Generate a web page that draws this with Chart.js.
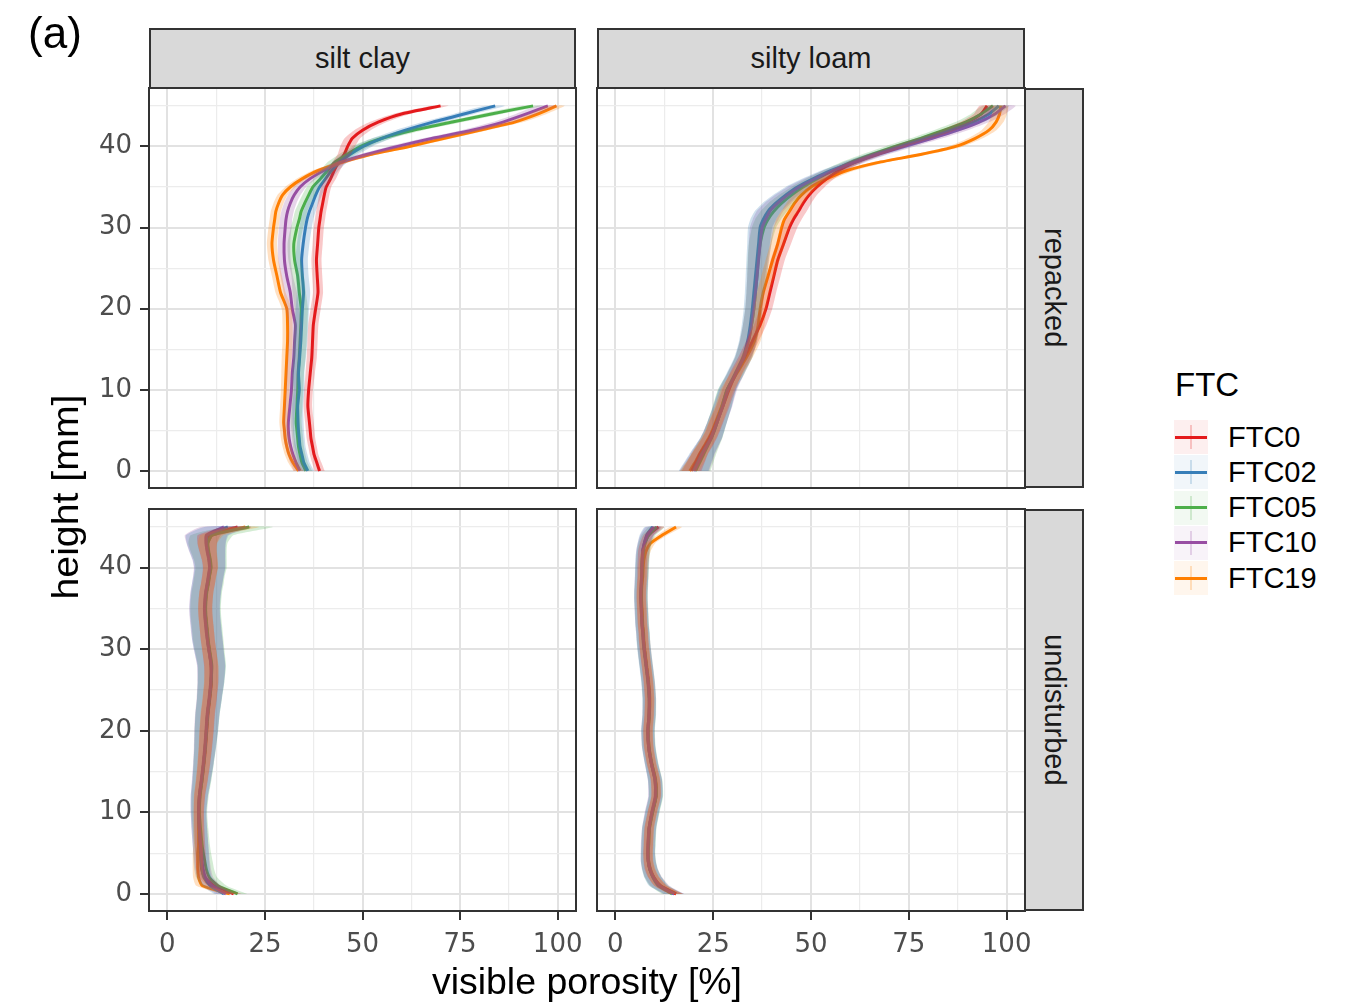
<!DOCTYPE html>
<html>
<head>
<meta charset="utf-8">
<script src="https://cdn.jsdelivr.net/npm/chart.js@4.4.1/dist/chart.umd.min.js"></script>
<style>
html,body{margin:0;padding:0;background:#fff;}
#root{position:relative;width:1346px;height:1004px;overflow:hidden;font-family:"Liberation Sans",Arial,sans-serif;color:#000;}
.t{position:absolute;white-space:nowrap;}
canvas{position:absolute;}
.strip{position:absolute;background:#d9d9d9;border:2px solid #333;box-sizing:border-box;display:flex;align-items:center;justify-content:center;color:#1a1a1a;}
</style>
</head>
<body>
<div id="root"></div>
<script>
// ---------------- DATA ----------------
const heights = [0,1,2,3,4,5,6,8,10,12,14,16,18,20,22,24,26,28,30,31,32,33,34,35,36,37,38,39,40,41,42,43,44,45];
const ftcLevels = ['FTC0','FTC02','FTC05','FTC10','FTC19'];
const ftcColors = ['#e41a1c','#377eb8','#4daf4a','#984ea3','#ff7f00'];
const soilTypes = ['silt clay','silty loam'];
const preparations = ['repacked','undisturbed'];
const xMajorTicks = [0,25,50,75,100];
const xMinorTicks = [12.5,37.5,62.5,87.5];
const yMajorTicks = [0,10,20,30,40];
const yMinorTicks = [5,15,25,35,45];

// silt clay, repacked
const scRep_FTC0  = [39.0,38.3,37.6,37.2,36.8,36.6,36.4,36.0,36.2,36.6,37.0,37.2,37.4,38.0,38.6,38.4,38.2,38.5,38.8,39.1,39.4,39.8,40.2,40.7,41.8,42.7,43.8,45.3,46.2,47.4,50.0,54.0,60.0,70.0];
const scRep_FTC02 = [36.0,35.0,34.5,34.0,33.8,33.6,33.5,33.4,33.8,33.6,33.9,34.2,34.4,34.6,34.9,34.6,34.4,34.8,35.4,35.8,36.4,37.2,38.0,39.0,40.5,42.0,44.0,46.8,50.2,55.0,61.0,68.0,76.0,84.0];
const scRep_FTC05 = [35.5,34.5,34.0,33.6,33.4,33.2,33.0,33.2,33.4,33.5,33.8,34.0,34.2,34.3,33.8,33.4,32.6,32.4,33.2,33.8,34.3,35.2,36.2,37.3,39.2,41.0,42.8,46.0,49.5,55.0,63.0,73.0,83.0,93.7];
const scRep_FTC10 = [34.0,33.0,32.2,31.6,31.2,31.0,31.0,31.4,31.8,32.0,32.4,32.6,32.8,32.0,31.5,30.6,30.0,29.9,30.2,30.4,30.8,31.5,32.5,34.0,36.5,40.0,44.2,51.0,59.0,68.0,78.0,86.0,92.0,97.5];
const scRep_FTC19 = [33.6,32.2,31.2,30.6,30.2,30.0,29.8,30.0,30.2,30.4,30.6,30.8,30.8,30.6,29.0,28.1,27.2,26.8,27.2,27.5,27.8,28.5,29.5,31.5,34.5,38.5,44.5,52.0,62.0,71.0,80.0,89.0,95.0,99.7];
const scRep_sdWide   = [1.6,1.5,1.4,1.4,1.4,1.4,1.4,1.4,1.4,1.5,1.6,1.7,1.7,1.7,1.7,1.6,1.6,1.6,1.6,1.6,1.6,1.6,1.6,1.6,1.7,1.8,1.9,2.1,2.3,2.5,2.6,2.7,2.7,2.6];
const scRep_sdNarrow = [1.3,1.2,1.1,1.1,1.1,1.1,1.1,1.1,1.1,1.2,1.3,1.3,1.3,1.3,1.3,1.3,1.3,1.3,1.3,1.3,1.3,1.3,1.3,1.3,1.4,1.5,1.6,1.7,1.9,2.0,2.1,2.2,2.2,2.1];

// silty loam, repacked
const slRep_FTC0  = [19.5,20.5,21.5,22.8,24.0,25.0,25.8,27.5,29.0,30.8,33.0,35.0,37.0,38.5,39.5,40.5,41.5,43.0,44.5,45.5,46.8,48.0,49.5,51.5,54.0,57.0,61.0,66.5,72.5,79.0,85.0,90.0,93.5,95.0];
const slRep_FTC02 = [20.0,21.0,22.0,23.2,24.4,25.3,26.0,27.4,28.6,30.6,32.6,33.8,34.5,35.0,35.4,35.8,36.2,36.6,37.0,37.8,39.0,41.0,43.5,46.5,50.5,55.0,60.5,66.5,73.0,79.5,86.0,91.5,95.5,98.0];
const slRep_FTC05 = [20.5,21.5,22.5,23.5,24.5,25.3,26.0,27.3,28.5,30.8,32.8,34.0,34.8,35.4,35.8,36.2,36.5,37.0,38.0,39.0,40.5,42.5,45.0,48.0,51.5,55.5,60.0,65.5,71.5,78.0,84.0,89.5,93.5,96.5];
const slRep_FTC10 = [20.2,21.2,22.2,23.3,24.4,25.2,26.0,27.5,28.8,30.8,32.8,34.0,34.8,35.4,35.8,36.2,36.6,37.0,37.5,38.4,39.5,41.5,44.0,47.0,51.0,55.5,61.0,67.0,74.0,81.0,87.5,93.0,97.0,99.7];
const slRep_FTC19 = [19.0,20.3,21.4,22.6,23.8,24.8,25.6,27.2,28.6,31.0,33.5,35.5,36.5,37.0,37.8,39.0,40.2,41.5,42.5,43.2,44.5,45.8,47.5,50.0,54.0,59.0,67.0,78.0,87.0,92.0,95.5,97.3,98.2,98.5];
const slRep_sdWide   = [3.8,3.5,3.2,3.0,2.8,2.6,2.5,2.4,2.3,2.2,2.2,2.2,2.2,2.2,2.3,2.5,2.7,2.9,3.1,3.3,3.4,3.4,3.2,3.0,2.8,2.6,2.6,2.6,2.6,2.6,2.6,2.6,2.6,2.6];
const slRep_sdNarrow = [2.5,2.3,2.1,2.0,1.9,1.8,1.8,1.7,1.7,1.6,1.6,1.6,1.6,1.6,1.6,1.7,1.8,1.9,2.0,2.1,2.1,2.1,2.0,2.0,1.9,1.9,1.9,1.9,1.9,1.9,1.9,1.9,1.9,1.9];

// silt clay, undisturbed
const scUnd_FTC0  = [17.0,12.0,9.6,8.8,8.6,8.5,8.4,8.2,8.1,8.3,8.9,9.4,9.8,10.1,10.4,10.9,11.3,11.2,10.7,10.4,10.2,10.0,9.8,9.7,9.8,10.0,10.4,10.7,11.0,10.8,10.4,10.2,10.8,18.0];
const scUnd_FTC02 = [14.5,11.0,9.4,8.9,8.7,8.6,8.5,8.2,8.0,8.2,8.8,9.3,9.7,10.0,10.3,10.8,11.2,11.3,10.6,10.3,10.1,9.9,9.7,9.6,9.7,9.9,10.2,10.6,10.9,10.7,10.3,10.0,10.3,15.5];
const scUnd_FTC05 = [18.0,13.0,10.8,10.0,9.6,9.2,8.9,8.5,8.2,8.4,8.9,9.3,9.7,10.0,10.3,10.8,11.2,11.4,10.8,10.5,10.3,10.1,9.9,9.8,9.9,10.1,10.5,10.8,11.2,11.0,10.6,10.4,11.5,21.0];
const scUnd_FTC10 = [15.0,11.5,9.8,9.2,8.9,8.7,8.5,8.2,8.0,8.2,8.7,9.2,9.6,9.9,10.2,10.7,11.1,11.2,10.6,10.3,10.0,9.8,9.6,9.5,9.6,9.8,10.2,10.5,10.8,10.6,10.2,9.9,10.0,14.5];
const scUnd_FTC19 = [16.0,9.0,8.0,7.8,7.8,7.8,8.0,8.0,8.0,8.2,8.8,9.3,9.7,10.0,10.3,10.8,11.2,11.3,10.7,10.4,10.2,10.0,9.8,9.7,9.8,10.0,10.4,10.8,11.1,10.9,10.5,10.3,11.5,20.0];
const scUnd_sdWide   = [2.5,2.2,2.0,2.0,2.0,2.0,2.0,2.0,2.0,2.2,2.4,2.6,2.8,3.0,3.1,3.2,3.4,3.6,3.8,3.9,3.9,3.9,3.9,3.9,3.9,3.9,3.9,3.9,4.0,4.2,4.6,5.0,5.5,6.0];
const scUnd_sdNarrow = [2.0,1.6,1.4,1.3,1.3,1.3,1.3,1.3,1.3,1.4,1.5,1.6,1.7,1.8,1.8,1.8,1.8,1.8,1.8,1.8,1.8,1.8,1.8,1.8,1.8,1.8,1.8,1.8,1.9,2.0,2.2,2.5,3.0,3.5];

// silty loam, undisturbed
const slUnd_FTC0  = [15.5,11.5,9.8,8.8,8.4,8.3,8.4,8.6,9.4,10.4,10.2,9.2,8.5,8.3,8.6,8.7,8.4,7.9,7.4,7.2,7.1,6.9,6.8,6.7,6.6,6.6,6.7,6.8,6.8,6.9,7.0,7.5,8.5,11.0];
const slUnd_FTC02 = [15.0,11.0,9.6,8.8,8.4,8.3,8.4,8.6,9.4,10.3,10.1,9.2,8.5,8.3,8.6,8.6,8.3,7.8,7.3,7.1,7.0,6.8,6.7,6.6,6.5,6.5,6.6,6.7,6.7,6.8,7.0,7.4,8.0,9.5];
const slUnd_FTC05 = [14.5,11.2,9.7,8.9,8.5,8.4,8.5,8.7,9.5,10.4,10.2,9.3,8.6,8.4,8.7,8.7,8.4,7.9,7.4,7.2,7.1,6.9,6.8,6.7,6.6,6.6,6.7,6.8,6.9,7.0,7.2,7.6,8.5,10.5];
const slUnd_FTC10 = [15.0,11.4,9.8,8.9,8.4,8.3,8.3,8.6,9.3,10.2,10.1,9.2,8.5,8.3,8.6,8.7,8.4,7.9,7.4,7.2,7.0,6.8,6.7,6.6,6.5,6.5,6.6,6.7,6.8,6.9,7.0,7.4,8.2,9.8];
const slUnd_FTC19 = [15.5,11.6,9.9,9.0,8.5,8.4,8.5,8.7,9.5,10.4,10.3,9.3,8.6,8.4,8.7,8.8,8.5,8.0,7.5,7.3,7.2,7.0,6.9,6.8,6.7,6.7,6.8,7.0,7.1,7.3,7.8,9.0,12.0,15.5];
const slUnd_sdWide   = [2.6,2.4,2.2,2.0,1.9,1.8,1.8,1.8,1.8,1.8,1.8,1.7,1.7,1.7,1.7,1.7,1.7,1.7,1.7,1.7,1.7,1.7,1.7,1.7,1.7,1.7,1.7,1.7,1.7,1.7,1.7,1.7,1.8,2.0];
const slUnd_sdNarrow = [1.8,1.6,1.4,1.3,1.2,1.2,1.2,1.2,1.2,1.2,1.2,1.2,1.2,1.2,1.2,1.2,1.2,1.2,1.2,1.2,1.2,1.2,1.2,1.2,1.2,1.2,1.2,1.2,1.2,1.2,1.2,1.2,1.3,1.5];

// ---------------- ASSEMBLY ----------------
const panels = [
  {row:0,col:0,series:[scRep_FTC0,scRep_FTC02,scRep_FTC05,scRep_FTC10,scRep_FTC19],
   sd:[scRep_sdNarrow,scRep_sdWide,scRep_sdWide,scRep_sdWide,scRep_sdNarrow]},
  {row:0,col:1,series:[slRep_FTC0,slRep_FTC02,slRep_FTC05,slRep_FTC10,slRep_FTC19],
   sd:[slRep_sdNarrow,slRep_sdWide,slRep_sdWide,slRep_sdWide,slRep_sdNarrow]},
  {row:1,col:0,series:[scUnd_FTC0,scUnd_FTC02,scUnd_FTC05,scUnd_FTC10,scUnd_FTC19],
   sd:[scUnd_sdNarrow,scUnd_sdWide,scUnd_sdWide,scUnd_sdWide,scUnd_sdNarrow]},
  {row:1,col:1,series:[slUnd_FTC0,slUnd_FTC02,slUnd_FTC05,slUnd_FTC10,slUnd_FTC19],
   sd:[slUnd_sdNarrow,slUnd_sdWide,slUnd_sdWide,slUnd_sdWide,slUnd_sdNarrow]}
];
// drawing ranks (higher = drawn later, on top)
const lineRank = [1,3,2,4,0];
const ribbonRank = [3,2,0,1,4];

const geo = {colLeft:[149,597], colWidth:[427,428], rowTop:[88,509], rowHeight:[400,402]};
const X_RANGE = [-4.7,104.7], Y_RANGE = [-2.1,47.2];
const TICK_FONT = {family:'DejaVu Sans', size:26};
const root = document.getElementById('root');

function rgba(hex,a){const n=parseInt(hex.slice(1),16);return `rgba(${n>>16&255},${n>>8&255},${n&255},${a})`;}

const borderPlugin = {
  id:'panelBorder',
  afterDraw(chart){const a=chart.chartArea,c=chart.ctx;c.save();c.strokeStyle='#333';c.lineWidth=2;c.strokeRect(a.left,a.top,a.right-a.left,a.bottom-a.top);c.restore();}
};

function gridOpts(majors, show){
  const isMaj = ctx => ctx.tick && majors.includes(ctx.tick.value);
  return {
    color: ctx => isMaj(ctx) ? '#e2e2e2' : '#ececec',
    lineWidth: ctx => isMaj(ctx) ? 2 : 1.2,
    drawTicks: show, tickLength: 9, tickWidth: 2,
    tickColor: ctx => isMaj(ctx) ? '#333' : 'rgba(0,0,0,0)'
  };
}
function zeroPad(s){ s.paddingTop = 0; s.paddingBottom = 0; s.paddingLeft = 0; s.paddingRight = 0; }

panels.forEach(p => {
  const showY = p.col === 0, showX = p.row === 1;
  const yW = showY ? 100 : 0, xH = showX ? 70 : 0;
  const pad = {left:4, top:4, right:30, bottom: showX ? 0 : 4};
  const pL = geo.colLeft[p.col], pT = geo.rowTop[p.row], pW = geo.colWidth[p.col], pH = geo.rowHeight[p.row];
  const cv = document.createElement('canvas');
  const cw = pad.left + yW + pW + pad.right, ch = pad.top + pH + xH + pad.bottom;
  cv.width = cw; cv.height = ch;
  cv.style.left = (pL - yW - pad.left) + 'px'; cv.style.top = (pT - pad.top) + 'px';
  cv.style.width = cw + 'px'; cv.style.height = ch + 'px';
  root.appendChild(cv);

  const datasets = [];
  ftcLevels.forEach((name, i) => {
    const vals = p.series[i], sd = p.sd[i];
    datasets.push({
      label: name, data: heights.map((h,k)=>({x: vals[k], y: h})),
      borderColor: ftcColors[i], borderWidth: 3, pointRadius: 0, fill: false,
      tension: 0.2, order: 30 - lineRank[i]
    });
    const lower = heights.map((h,k)=>({x: vals[k] - sd[k], y: h}));
    const upper = heights.map((h,k)=>({x: vals[k] + sd[k], y: h})).reverse();
    datasets.push({
      label: name + ' ribbon', data: lower.concat(upper),
      borderWidth: 0, pointRadius: 0, backgroundColor: rgba(ftcColors[i], 0.24),
      fill: 'shape', tension: 0.2, order: 14 - ribbonRank[i]
    });
  });

  new Chart(cv, {
    type: 'line',
    data: {datasets},
    options: {
      responsive: false, animation: false, events: [],
      layout: {padding: pad, autoPadding: false},
      plugins: {legend: {display: false}, tooltip: {enabled: false}},
      scales: {
        x: {
          type: 'linear', min: X_RANGE[0], max: X_RANGE[1],
          afterBuildTicks: s => { s.ticks = xMajorTicks.concat(xMinorTicks).sort((a,b)=>a-b).map(v=>({value:v})); },
          afterFit: s => { s.height = xH; zeroPad(s); },
          ticks: {display: showX, autoSkip: false, maxRotation: 0, padding: 10, font: TICK_FONT, color: '#4d4d4d',
                  callback: v => xMajorTicks.includes(v) ? String(v) : ''},
          grid: gridOpts(xMajorTicks, showX),
          border: {display: false}
        },
        y: {
          type: 'linear', min: Y_RANGE[0], max: Y_RANGE[1],
          afterBuildTicks: s => { s.ticks = yMajorTicks.concat(yMinorTicks).sort((a,b)=>a-b).map(v=>({value:v})); },
          afterFit: s => { s.width = yW; zeroPad(s); },
          ticks: {display: showY, autoSkip: false, padding: 8, font: TICK_FONT, color: '#4d4d4d',
                  callback: v => yMajorTicks.includes(v) ? String(v) : ''},
          grid: gridOpts(yMajorTicks, showY),
          border: {display: false}
        }
      }
    },
    plugins: [borderPlugin]
  });
});

// ---------------- STRIPS, TITLES, LEGEND ----------------
function strip(left, top, w, h, text, vertical){
  const d = document.createElement('div'); d.className = 'strip';
  Object.assign(d.style, {left: left+'px', top: top+'px', width: w+'px', height: h+'px'});
  const s = document.createElement('span'); s.textContent = text; s.style.fontSize = '29px';
  if (vertical) s.style.writingMode = 'vertical-rl';
  d.appendChild(s); root.appendChild(d);
}
soilTypes.forEach((s, c) => strip(geo.colLeft[c], 28, geo.colWidth[c], 61, s, false));
preparations.forEach((s, r) => strip(geo.colLeft[1] + geo.colWidth[1] - 1, geo.rowTop[r], 60, geo.rowHeight[r], s, true));

function centerText(txt, cx, cy, size, extra){
  const d = document.createElement('div'); d.className = 't'; d.textContent = txt;
  Object.assign(d.style, {left: (cx-400)+'px', width: '800px', textAlign: 'center', top: (cy - size/2)+'px',
    fontSize: size+'px', lineHeight: size+'px', height: size+'px'}, extra || {});
  root.appendChild(d); return d;
}
centerText('visible porosity [%]', 587, 982, 36, {transform: 'scaleX(1.04)'});
centerText('height [mm]', 66, 497, 36, {transform: 'rotate(-90deg) scaleX(1.09)'});
centerText('(a)', 55, 33, 44, {});

// legend
const lg = document.createElement('div'); lg.className = 't';
Object.assign(lg.style, {left: '1175px', top: (384-16.5)+'px', fontSize: '33px', lineHeight: '33px'});
lg.textContent = 'FTC'; root.appendChild(lg);
ftcLevels.forEach((name, i) => {
  const cy = 437 + i * 35.3;
  const key = document.createElement('div');
  Object.assign(key.style, {position: 'absolute', left: '1174px', top: (cy-17)+'px', width: '34px', height: '34px', background: rgba(ftcColors[i], 0.07)});
  const hl = document.createElement('div');
  Object.assign(hl.style, {position: 'absolute', left: '1px', top: '15.5px', width: '32px', height: '3px', background: ftcColors[i]});
  const vl = document.createElement('div');
  Object.assign(vl.style, {position: 'absolute', left: '16px', top: '5px', width: '2px', height: '24px', background: rgba(ftcColors[i], 0.22)});
  key.appendChild(vl); key.appendChild(hl); root.appendChild(key);
  const t = document.createElement('div'); t.className = 't'; t.textContent = name;
  Object.assign(t.style, {left: '1228px', top: (cy-14.5)+'px', fontSize: '29px', lineHeight: '29px', color: '#000'});
  root.appendChild(t);
});
</script>
</body>
</html>
